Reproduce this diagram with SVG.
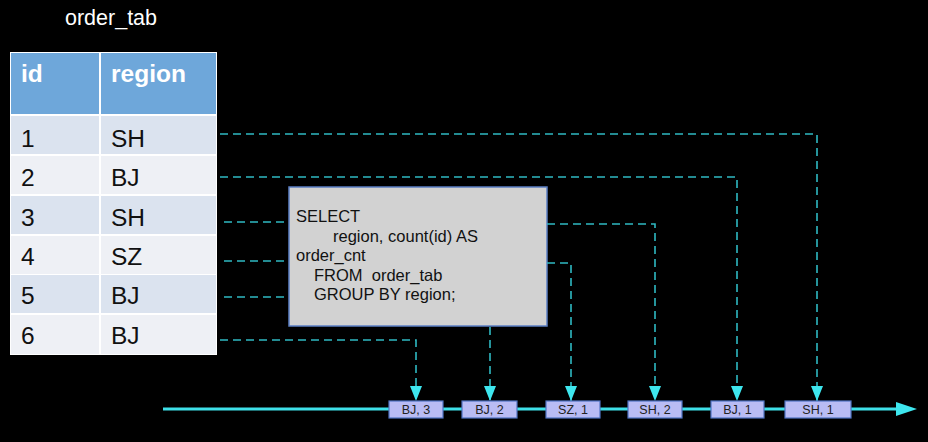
<svg xmlns="http://www.w3.org/2000/svg" width="928" height="442" viewBox="0 0 928 442">
<defs>
<style>
.t{font-family:"Liberation Sans",Arial,sans-serif}
.hd{font-size:24.5px;font-weight:bold;fill:#ffffff}
.cell{font-size:24.5px;fill:#111111}
.sql{font-size:16.5px;fill:#111111;white-space:pre}
.ev rect{fill:#b9bcf4;stroke:#4f73c4;stroke-width:1.2}
.ev text{font-size:12.5px;fill:#222222;text-anchor:middle}
.dash{fill:none;stroke:#2fb9c2;stroke-width:1.6;stroke-dasharray:8 5}
</style>
<marker id="ah" markerUnits="userSpaceOnUse" markerWidth="16" markerHeight="14" viewBox="0 0 16 14" refX="15" refY="7" orient="auto">
<path d="M0,1 L15,7 L0,13 Z" fill="#3ee6ee"/>
</marker>
</defs>
<rect width="928" height="442" fill="#000000"/>
<text class="t" x="65" y="25" font-size="21.5" fill="#ffffff">order_tab</text>
<g id="table">
<rect x="10" y="52" width="207" height="303" fill="#ffffff"/>
<rect x="11" y="53" width="88" height="61" fill="#6ea7da"/>
<rect x="101" y="53" width="115" height="61" fill="#6ea7da"/>
<rect x="11" y="116" width="88" height="38" fill="#dbe3ef"/>
<rect x="101" y="116" width="115" height="38" fill="#dbe3ef"/>
<rect x="11" y="156" width="88" height="38" fill="#eef0f5"/>
<rect x="101" y="156" width="115" height="38" fill="#eef0f5"/>
<rect x="11" y="196" width="88" height="38" fill="#dbe3ef"/>
<rect x="101" y="196" width="115" height="38" fill="#dbe3ef"/>
<rect x="11" y="236" width="88" height="38" fill="#eef0f5"/>
<rect x="101" y="236" width="115" height="38" fill="#eef0f5"/>
<rect x="11" y="275" width="88" height="38" fill="#dbe3ef"/>
<rect x="101" y="275" width="115" height="38" fill="#dbe3ef"/>
<rect x="11" y="315" width="88" height="39" fill="#eef0f5"/>
<rect x="101" y="315" width="115" height="39" fill="#eef0f5"/>
<text class="t hd" x="21" y="82">id</text>
<text class="t hd" x="111" y="82">region</text>
<text class="t cell" x="21" y="147">1</text><text class="t cell" x="111" y="147">SH</text>
<text class="t cell" x="21" y="186">2</text><text class="t cell" x="111" y="186">BJ</text>
<text class="t cell" x="21" y="226">3</text><text class="t cell" x="111" y="226">SH</text>
<text class="t cell" x="21" y="265">4</text><text class="t cell" x="111" y="265">SZ</text>
<text class="t cell" x="21" y="304">5</text><text class="t cell" x="111" y="304">BJ</text>
<text class="t cell" x="21" y="344">6</text><text class="t cell" x="111" y="344">BJ</text>
</g>
<g id="sql">
<rect x="289" y="187" width="258" height="139" fill="#d2d2d2" stroke="#5b7fc4" stroke-width="1.5"/>
<text class="t sql" x="296" y="222">SELECT</text>
<text class="t sql" x="333" y="242">region, count(id) AS</text>
<text class="t sql" x="296" y="261">order_cnt</text>
<text class="t sql" x="314" y="281" xml:space="preserve">FROM  order_tab</text>
<text class="t sql" x="314" y="300">GROUP BY region;</text>
</g>
<g id="connectors">
<line x1="163" y1="409" x2="900" y2="409" stroke="#3ee0e8" stroke-width="3"/>
<path d="M896,402 L917,409 L896,416 Z" fill="#3ee6ee"/>
<path class="dash" d="M220,134 H817 V401" marker-end="url(#ah)"/>
<path class="dash" d="M220,177 H737 V401" marker-end="url(#ah)"/>
<path class="dash" d="M224,222 H289"/>
<path class="dash" d="M224,261 H289"/>
<path class="dash" d="M224,297 H289"/>
<path class="dash" d="M547,224 H655 V401" marker-end="url(#ah)"/>
<path class="dash" d="M547,263 H571 V401" marker-end="url(#ah)"/>
<path class="dash" d="M490,327 V401" marker-end="url(#ah)"/>
<path class="dash" d="M220,340 H416 V401" marker-end="url(#ah)"/>
</g>
<g id="ev1" class="ev"><rect x="389" y="401" width="54" height="17"/><text class="t" x="416" y="414">BJ, 3</text></g>
<g id="ev2" class="ev"><rect x="462" y="401" width="55" height="17"/><text class="t" x="489.5" y="414">BJ, 2</text></g>
<g id="ev3" class="ev"><rect x="546" y="401" width="54" height="17"/><text class="t" x="573" y="414">SZ, 1</text></g>
<g id="ev4" class="ev"><rect x="628" y="401" width="54" height="17"/><text class="t" x="655" y="414">SH, 2</text></g>
<g id="ev5" class="ev"><rect x="711" y="401" width="53" height="17"/><text class="t" x="737.5" y="414">BJ, 1</text></g>
<g id="ev6" class="ev"><rect x="785" y="401" width="66" height="17"/><text class="t" x="818" y="414">SH, 1</text></g>
</svg>
